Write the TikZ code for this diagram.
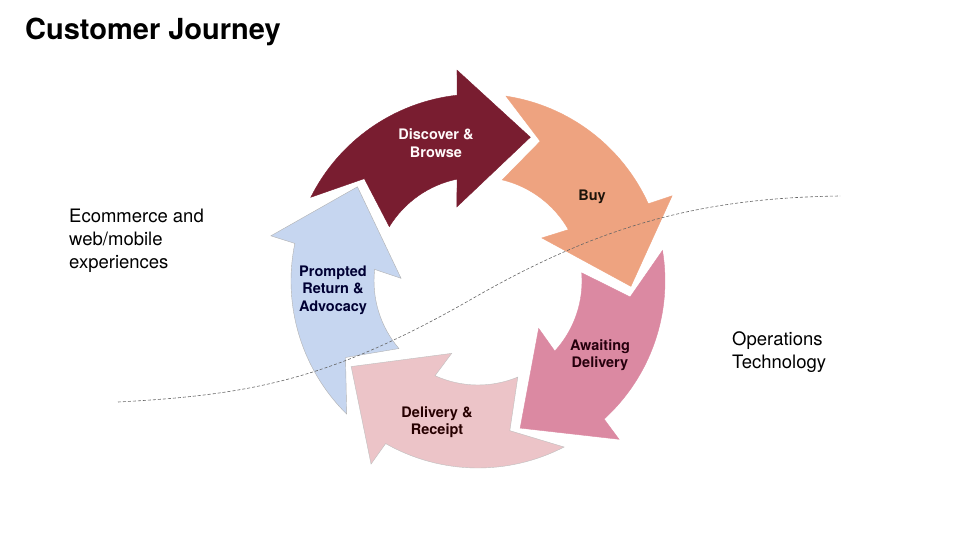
\documentclass[tikz,border=0pt]{standalone}
\usepackage{fontspec}
\setmainfont{TeX Gyre Heros}
\usepackage{xcolor}
\definecolor{discovercol}{HTML}{791D30}
\definecolor{buycol}{HTML}{EEA380}
\definecolor{awaitcol}{HTML}{DB89A2}
\definecolor{receiptcol}{HTML}{ECC4C8}
\definecolor{returncol}{HTML}{C6D6F0}

\begin{document}
\begin{tikzpicture}[x=1pt, y=1pt,
    stagelabel/.style={
        align=center, inner sep=0pt,
        font=\bfseries\fontsize{14.5}{17.5}\selectfont
      },
    sidetext/.style={
        align=left, inner sep=0pt, anchor=west,
        font=\fontsize{18.5}{23}\selectfont
      },
    divide/.style={draw=black!60, line width=0.6pt, dash pattern=on 3pt off 2pt}
  ]
  \useasboundingbox (0,0) rectangle (960,-540);
  \fill[white] (0,0) rectangle (960,-540);

  % the five stages, clockwise
  \begin{scope}[shift={(478,-281)}]
    \foreach \a/\c/\o in {108/discovercol/discovercol, 36/buycol/buycol,
        -36/awaitcol/awaitcol, -108/receiptcol/black!25, 180/returncol/black!30}{
      \filldraw[fill=\c, draw=\o, line width=0.4pt]
        ({\a+45.4}:187) arc[start angle={\a+45.4}, end angle={\a-11.6}, radius=187]
        -- ({\a-12.3}:212) -- ({\a-38}:153) -- ({\a-2}:77) -- ({\a-6.4}:104)
        arc[start angle={\a-6.4}, end angle={\a+40.5}, radius=104]
        -- ({\a+30}:153) -- cycle;
    }
  \end{scope}

  % web / operations boundary
  \coordinate (webend) at (118,-402);
  \coordinate (opsend) at (840,-196);
  \draw[divide] (webend) .. controls (250,-395) and (330,-380) .. (470,-300)
    .. controls (600,-225) and (700,-198) .. (opsend);

  \node[stagelabel, text=white!92!pink] (discover) at (436,-143) {Discover \&\\Browse};
  \node[stagelabel, text=black!85!brown] (buy) at (592,-197) {Buy};
  \node[stagelabel, text=black!80!purple] (awaiting) at (600,-355) {Awaiting\\Delivery};
  \node[stagelabel, text=black!85!red] (receipt) at (437,-422) {Delivery \&\\Receipt};
  \node[stagelabel, text=black!80!blue] (advocacy) at (333,-290) {Prompted\\Return \&\\Advocacy};

  \node[anchor=base west, inner sep=0pt, font=\bfseries\fontsize{29}{34}\selectfont] (title) at (25,-40) {Customer Journey};
  \node[sidetext] (webside) at (69,-241) {Ecommerce and\\web/mobile\\experiences};
  \node[sidetext] (opsside) at (732,-352) {Operations\\Technology};
\end{tikzpicture}
\end{document}
